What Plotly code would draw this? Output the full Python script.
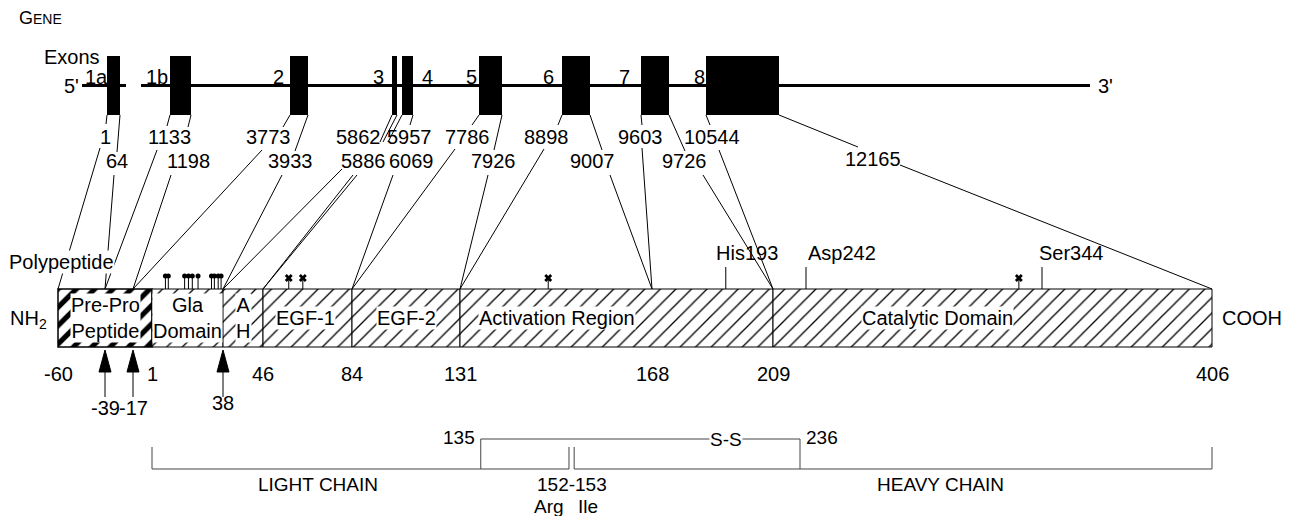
import numpy as np
import plotly.graph_objects as go

# ------------------------------------------------------------------ data
EXON_NAMES = ["1a", "1b", "2", "3", "4", "5", "6", "7", "8"]
EXON_START_BP = [1, 1133, 3773, 5862, 5957, 7786, 8898, 9603, 10544]
EXON_END_BP = [64, 1198, 3933, 5886, 6069, 7926, 9007, 9726, 12165]
EXON_START_RES = [-60, -39, -17, 38, 46, 84, 131, 168, 209]
EXON_END_RES = [-39, -17, 38, 46, 84, 131, 168, 209, 406]

DOMAIN_LABELS = ["Pre-Pro<br>Peptide", "Gla<br>Domain", "A<br>H", "EGF-1",
                 "EGF-2", "Activation Region", "Catalytic Domain"]
DOMAIN_START = [-60, 1, 38, 46, 84, 131, 209]
DOMAIN_END = [1, 38, 46, 84, 131, 209, 406]

RESIDUE_TICKS = [-60, 1, 46, 84, 131, 168, 209, 406]
PROCESSING_SITES = [-39, -17, 38]
ACTIVE_SITE_LABELS = ["His193", "Asp242", "Ser344"]
ACTIVE_SITE_RES = [193, 242, 344]
GLA_SITES = [8, 9.5, 18, 20, 22, 25, 32, 33.5, 35.5, 37]
GLYCO_SITES = [57, 63, 148, 334]
LIGHT_CHAIN = [1, 152]
HEAVY_CHAIN = [153, 406]
DISULFIDE = [135, 236]

# ------------------------------------------------- schematic axes (layout)
GENE_AXIS_BP = [1, 64, 1133, 1198, 3773, 3933, 5862, 5886, 5957, 6069,
                7786, 7926, 8898, 9007, 9603, 9726, 10544, 12165]
GENE_AXIS_X = [107, 120, 170, 191, 290, 308, 392, 397, 402, 413,
               479, 502, 562, 590, 641, 669, 706, 779]
PROT_AXIS_RES = [-60, -39, -17, 1, 38, 46, 84, 131, 168, 209, 242, 344, 406]
PROT_AXIS_X = [58, 105, 133, 152, 223, 263, 352, 460, 652, 773, 806, 1042, 1212]


def gx(bp):
    return float(np.interp(bp, GENE_AXIS_BP, GENE_AXIS_X))


def px(res):
    return float(np.interp(res, PROT_AXIS_RES, PROT_AXIS_X))


FONT = "Liberation Sans, Arial, Helvetica, sans-serif"
FS = 20
PAGE_MARGIN = 8  # default body margin of the html page

# vertical layout
Y_GENE, EXON_TOP, EXON_BOT = 85.5, 56, 115
Y_ROW1, Y_ROW2 = 137, 161
BAR_TOP, BAR_BOT = 289, 347
Y_BAR_MID = (BAR_TOP + BAR_BOT) / 2

# label placement / connector layout
EXON_LABEL_X = [96, 157, 278, 378, 427, 471, 548, 624, 699]
START_LABEL_POS = [(105, Y_ROW1), (169, Y_ROW1), (268, Y_ROW1), (358, Y_ROW1), (409, Y_ROW1),
                   (467, Y_ROW1), (546, Y_ROW1), (640, Y_ROW1), (712, Y_ROW1)]
END_LABEL_POS = [(117, Y_ROW2), (188, Y_ROW2), (290, Y_ROW2), (363, Y_ROW2), (411, Y_ROW2),
                 (493, Y_ROW2), (592, Y_ROW2), (684, Y_ROW2), (873, 159)]
START_TICK_END = [(106, 124), (167, 126), (283, 127), (380, 142), (388, 142),
                  (472, 125), (558, 125), (642, 125), (710, 125)]
START_LOW_FROM = [(100, 148), (157, 150), (262, 150), (342, 169), (357, 175),
                  (455, 149), (544, 149), (642, 148), (719, 150)]
END_TICK_END = [(117, 152), (188, 127), (295, 151), (383, 142), (410, 125),
                (494, 150), (602, 150), (685, 151), (858, 147)]
END_LOW_FROM = [(114, 175), (171, 175), (282, 175), (353, 175), (393, 175),
                (488, 175), (610, 175), (703, 175), (900, 165)]

fig = go.Figure()

# gene backbone
fig.add_trace(go.Scatter(x=[82, 126, None, 141, 1090], y=[Y_GENE] * 2 + [None] + [Y_GENE] * 2,
                         mode="lines", line=dict(color="black", width=3), hoverinfo="skip"))

# exons
ex0 = [gx(b) for b in EXON_START_BP]
ex1 = [gx(b) for b in EXON_END_BP]
fig.add_trace(go.Bar(orientation="h", y=[Y_GENE] * len(ex0), base=ex0,
                     x=[b - a for a, b in zip(ex0, ex1)], width=EXON_BOT - EXON_TOP,
                     marker=dict(color="black", line=dict(width=0)), hoverinfo="skip"))

# connectors
cx, cy = [], []


def seg(p, q):
    cx.extend([p[0], q[0], None])
    cy.extend([p[1], q[1], None])


for i in range(len(EXON_NAMES)):
    seg((ex0[i], EXON_BOT), START_TICK_END[i])
    seg((ex1[i], EXON_BOT), END_TICK_END[i])
    seg(START_LOW_FROM[i], (px(EXON_START_RES[i]), BAR_TOP))
    seg(END_LOW_FROM[i], (px(EXON_END_RES[i]), BAR_TOP))

for r in ACTIVE_SITE_RES:
    seg((px(r), 267), (px(r), BAR_TOP))
for r in GLA_SITES:
    seg((px(r), 277), (px(r), BAR_TOP))
for r in GLYCO_SITES:
    seg((px(r), 279), (px(r), BAR_TOP))
for r in PROCESSING_SITES:
    seg((px(r), 370), (px(r), 397))

fig.add_trace(go.Scatter(x=cx, y=cy, mode="lines", line=dict(color="black", width=1),
                         hoverinfo="skip"))

# chain brackets
bx, by = [], []
for a, b in (LIGHT_CHAIN, HEAVY_CHAIN):
    bx += [px(a), px(a), px(b), px(b), None]
    by += [447, 469, 469, 447, None]
bx += [px(DISULFIDE[0]), px(DISULFIDE[0]), px(DISULFIDE[1]), px(DISULFIDE[1]), None]
by += [469, 439, 439, 469, None]
fig.add_trace(go.Scatter(x=bx, y=by, mode="lines", line=dict(color="#444", width=1),
                         hoverinfo="skip"))

# arrow heads
ax_, ay_ = [], []
for r in PROCESSING_SITES:
    x = px(r)
    ax_ += [x - 6, x, x + 6, x - 6, None]
    ay_ += [372, 350, 372, 372, None]
fig.add_trace(go.Scatter(x=ax_, y=ay_, mode="lines", fill="toself", fillcolor="black",
                         line=dict(color="black", width=1), hoverinfo="skip"))

# protein domains (hatched)
d0 = [px(r) for r in DOMAIN_START]
d1 = [px(r) for r in DOMAIN_END]
fig.add_trace(go.Bar(orientation="h", y=[Y_BAR_MID], base=[d0[0]], x=[d1[0] - d0[0]],
                     width=BAR_BOT - BAR_TOP,
                     marker=dict(color="white", line=dict(color="black", width=1.5),
                                 pattern=dict(shape="/", fgcolor="black", bgcolor="white",
                                              fgopacity=1, size=13, solidity=0.4)),
                     hoverinfo="skip"))
fig.add_trace(go.Bar(orientation="h", y=[Y_BAR_MID] * (len(d0) - 1), base=d0[1:],
                     x=[b - a for a, b in zip(d0[1:], d1[1:])], width=BAR_BOT - BAR_TOP,
                     marker=dict(color="white", line=dict(color="black", width=1),
                                 pattern=dict(shape="/", fgcolor="black", bgcolor="white",
                                              fgopacity=1, size=11, solidity=0.12)),
                     hoverinfo="skip"))

# gla heads & glyco marks
fig.add_trace(go.Scatter(x=[px(r) for r in GLA_SITES], y=[276] * len(GLA_SITES), mode="markers",
                         marker=dict(symbol="circle", size=5, color="black"), hoverinfo="skip"))
fig.add_trace(go.Scatter(x=[px(r) for r in GLYCO_SITES], y=[278] * len(GLYCO_SITES),
                         mode="markers", marker=dict(symbol="x", size=7, color="black"),
                         hoverinfo="skip"))

ann = []


def txt(x, y, s, size=FS, xanchor="center", bg=None, **kw):
    d = dict(x=x, y=y, text=s, showarrow=False, xanchor=xanchor, yanchor="middle",
             font=dict(family=FONT, size=size, color="black"), **kw)
    if bg:
        d.update(bgcolor=bg, borderpad=0)
    ann.append(d)


txt(17, 18, "G<span style='font-size:14px'>ENE</span>", size=18, xanchor="left")
txt(42, 57, "Exons", xanchor="left")
txt(71, 86, "5'")
txt(1105, 86, "3'")
for name, x in zip(EXON_NAMES, EXON_LABEL_X):
    txt(x, 77, name)
for bp, (x, y) in zip(EXON_START_BP, START_LABEL_POS):
    txt(x, y, str(bp))
for bp, (x, y) in zip(EXON_END_BP, END_LABEL_POS):
    txt(x, y, str(bp))

txt(61, 262, "Polypeptide", bg="white")
txt(28, 319, "NH<sub>2</sub>")
txt(1252, 318, "COOH")

DOMAIN_LABEL_DX = [0, 0, 0, -2, 0, -60, -55]
for lab, a, b, dx in zip(DOMAIN_LABELS, d0, d1, DOMAIN_LABEL_DX):
    txt((a + b) / 2 + dx, 318, lab, bg="white")

for r in RESIDUE_TICKS:
    txt(px(r), 374, str(r))
for r in PROCESSING_SITES:
    txt(px(r), 408 if r < 0 else 403, str(r))

for lab, r, dx in zip(ACTIVE_SITE_LABELS, ACTIVE_SITE_RES, [-12, 0, -5]):
    txt(px(r) + dx, 253, lab, xanchor="left")

txt(px(DISULFIDE[0]) - 4, 437, str(DISULFIDE[0]), size=19, xanchor="right")
txt(px(DISULFIDE[1]) + 4, 437, str(DISULFIDE[1]), size=19, xanchor="left")
txt(726, 439, "S-S", size=19, bg="white")
txt(318, 484, "LIGHT CHAIN", size=19)
txt(940, 484, "HEAVY CHAIN", size=19)
txt((px(LIGHT_CHAIN[1]) + px(HEAVY_CHAIN[0])) / 2, 484,
    f"{LIGHT_CHAIN[1]}-{HEAVY_CHAIN[0]}", size=19)
txt(px(LIGHT_CHAIN[1]) - 20, 506, "Arg", size=19)
txt(px(HEAVY_CHAIN[0]) + 14, 506, "Ile", size=19)

W, H = 1293, 516
fig.update_layout(
    width=W - PAGE_MARGIN, height=H - PAGE_MARGIN, autosize=False,
    margin=dict(l=0, r=0, t=0, b=0),
    paper_bgcolor="white", plot_bgcolor="white",
    showlegend=False, barmode="overlay",
    xaxis=dict(range=[PAGE_MARGIN, W], visible=False, fixedrange=True),
    yaxis=dict(range=[H, PAGE_MARGIN], visible=False, fixedrange=True),
    annotations=ann,
)
fig.write_html("out.html")
